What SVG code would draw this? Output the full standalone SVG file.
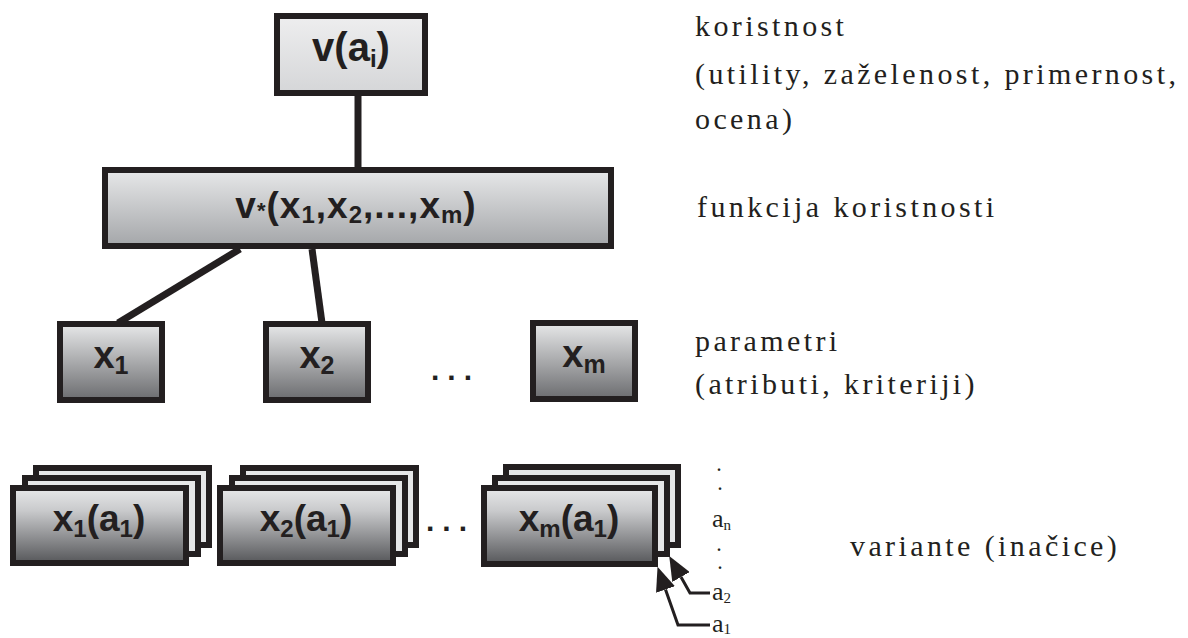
<svg xmlns="http://www.w3.org/2000/svg" width="1188" height="638" viewBox="0 0 1188 638">
<defs>
<linearGradient id="gTop" x1="0" y1="0" x2="0" y2="1"><stop offset="0" stop-color="#eeeeef"/><stop offset="1" stop-color="#d5d6d8"/></linearGradient>
<linearGradient id="gMid" x1="0" y1="0" x2="0" y2="1"><stop offset="0" stop-color="#e7e8e9"/><stop offset="1" stop-color="#a4a6a9"/></linearGradient>
<linearGradient id="gX" x1="0" y1="0" x2="0" y2="1"><stop offset="0" stop-color="#e7e8e9"/><stop offset="1" stop-color="#6b6c6f"/></linearGradient>
<linearGradient id="gF" x1="0" y1="0" x2="0" y2="1"><stop offset="0" stop-color="#e7e8e9"/><stop offset="0.3" stop-color="#c9cacc"/><stop offset="1" stop-color="#56575a"/></linearGradient>
<marker id="ah" markerUnits="userSpaceOnUse" markerWidth="24" markerHeight="20" viewBox="0 0 24 20" refX="0" refY="10" orient="auto"><path d="M0,0 L24,10 L0,20 z" fill="#231f20"/></marker>
<style>
.box{stroke:#231f20;stroke-width:6}
.back{fill:#e6e7e8;stroke:#231f20;stroke-width:6}
.conn{stroke:#231f20;stroke-width:7;fill:none}
.arr{stroke:#231f20;stroke-width:3;fill:none}
.lbl{font-family:"Liberation Sans",Arial,sans-serif;font-weight:bold;fill:#231f20;text-anchor:middle}
.dots{font-family:"Liberation Sans",Arial,sans-serif;font-weight:bold;fill:#231f20;font-size:30px;letter-spacing:8px}
.desc{font-family:"Liberation Serif","Times New Roman",serif;font-size:30px;letter-spacing:3.4px;fill:#231f20}
.al{font-family:"Liberation Serif","Times New Roman",serif;font-size:26px;fill:#231f20}
.ad{font-family:"Liberation Serif","Times New Roman",serif;font-size:16px;font-weight:bold;fill:#231f20}
</style>
</defs>
<g id="connectors">
<line class="conn" x1="358" y1="93" x2="358" y2="170"/>
<line class="conn" x1="240" y1="249" x2="118" y2="323"/>
<line class="conn" x1="312" y1="249" x2="322" y2="323"/>
<path class="arr" d="M710,625 H678 L665.5,589.5" marker-end="url(#ah)"/>
<path class="arr" d="M710,593 H690 L681,577" marker-end="url(#ah)"/>
</g>
<g id="node-v">
<rect class="box" x="277" y="16" width="148" height="77" fill="url(#gTop)"/>
<text class="lbl" x="351" y="61" font-size="40">v(a<tspan font-size="24" dy="6">i</tspan><tspan dy="-6">)</tspan></text>
</g>
<g id="node-func">
<rect class="box" x="105" y="170" width="506" height="76" fill="url(#gMid)"/>
<text class="lbl" x="356" y="218" font-size="37" letter-spacing="1">v<tspan font-size="22">*</tspan>(x<tspan font-size="24" dy="5">1</tspan><tspan dy="-5">,x</tspan><tspan font-size="24" dy="5">2</tspan><tspan dy="-5">,...,x</tspan><tspan font-size="24" dy="5">m</tspan><tspan dy="-5">)</tspan></text>
</g>
<g id="node-x1">
<rect class="box" x="60" y="324" width="102" height="76" fill="url(#gX)"/>
<text class="lbl" x="111" y="368" font-size="38">x<tspan font-size="25" dy="6">1</tspan></text>
</g>
<g id="node-x2">
<rect class="box" x="266" y="324" width="102" height="76" fill="url(#gX)"/>
<text class="lbl" x="317" y="368" font-size="38">x<tspan font-size="25" dy="6">2</tspan></text>
</g>
<text class="dots" x="431" y="380">...</text>
<g id="node-xm">
<rect class="box" x="533" y="323" width="102" height="76" fill="url(#gX)"/>
<text class="lbl" x="584" y="367" font-size="38">x<tspan font-size="25" dy="6">m</tspan></text>
</g>
<g id="node-x1a">
<rect class="back" x="36" y="468" width="173" height="77"/>
<rect class="back" x="25" y="478" width="173" height="76"/>
<rect class="box" x="13" y="488" width="173" height="75" fill="url(#gF)"/>
<text class="lbl" x="99" y="531" font-size="37">x<tspan font-size="24" dy="6">1</tspan><tspan dy="-6">(a</tspan><tspan font-size="24" dy="6">1</tspan><tspan dy="-6">)</tspan></text>
</g>
<g id="node-x2a">
<rect class="back" x="243" y="468" width="173" height="77"/>
<rect class="back" x="232" y="478" width="173" height="76"/>
<rect class="box" x="220" y="488" width="173" height="75" fill="url(#gF)"/>
<text class="lbl" x="306" y="531" font-size="37">x<tspan font-size="24" dy="6">2</tspan><tspan dy="-6">(a</tspan><tspan font-size="24" dy="6">1</tspan><tspan dy="-6">)</tspan></text>
</g>
<text class="dots" x="426" y="531">...</text>
<g id="node-xma">
<rect class="back" x="506" y="467" width="172" height="78"/>
<rect class="back" x="495" y="478" width="172" height="76"/>
<rect class="box" x="484" y="488" width="171" height="76" fill="url(#gF)"/>
<text class="lbl" x="569" y="531" font-size="37">x<tspan font-size="24" dy="6">m</tspan><tspan dy="-6">(a</tspan><tspan font-size="24" dy="6">1</tspan><tspan dy="-6">)</tspan></text>
</g>
<g id="variant-labels">
<text class="ad" x="717" y="471">.</text>
<text class="ad" x="718" y="490">.</text>
<text class="al" x="712" y="527">a<tspan font-size="15" dy="3">n</tspan></text>
<text class="ad" x="717" y="551">.</text>
<text class="ad" x="718" y="569">.</text>
<text class="al" x="712" y="600">a<tspan font-size="15" dy="3">2</tspan></text>
<text class="al" x="712" y="632">a<tspan font-size="15" dy="2">1</tspan></text>
</g>
<g id="descriptions">
<text class="desc" x="695" y="36">koristnost</text>
<text class="desc" x="695" y="84">(utility, zaželenost, primernost,</text>
<text class="desc" x="695" y="129">ocena)</text>
<text class="desc" x="697" y="217">funkcija koristnosti</text>
<text class="desc" x="695" y="351">parametri</text>
<text class="desc" x="695" y="394">(atributi, kriteriji)</text>
<text class="desc" x="850" y="556">variante (inačice)</text>
</g>
</svg>
